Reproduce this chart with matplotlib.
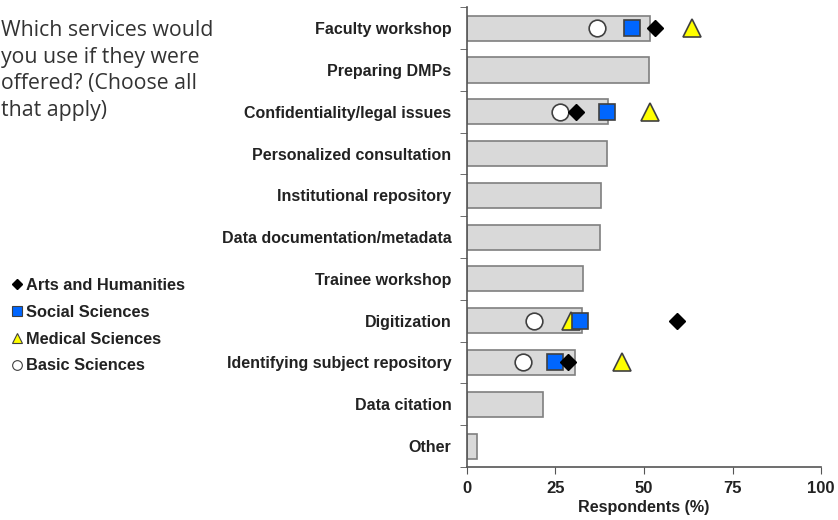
import numpy as np
import matplotlib
matplotlib.use('Agg')
from matplotlib import pyplot as plt
from matplotlib.lines import Line2D

# services and overall percentage of respondents
services = ['Faculty workshop', 'Preparing DMPs', 'Confidentiality/legal issues',
            'Personalized consultation', 'Institutional repository',
            'Data documentation/metadata', 'Trainee workshop', 'Digitization',
            'Identifying subject repository', 'Data citation', 'Other']
overall = [51.7, 51.5, 39.9, 39.5, 37.8, 37.5, 32.7, 32.6, 30.5, 21.6, 3.0]

# discipline breakdown (only shown for some services)
nan = np.nan
arts = [53.1, nan, 30.7, nan, nan, nan, nan, 59.2, 28.6, nan, nan]
social = [46.7, nan, 39.7, nan, nan, nan, nan, 31.9, 24.8, nan, nan]
medical = [63.4, nan, 51.8, nan, nan, nan, nan, 29.3, 43.7, nan, nan]
basic = [36.6, nan, 26.4, nan, nan, nan, nan, 18.9, 16.0, nan, nan]

xticks = [0, 25, 50, 75, 100]

plt.rcParams['font.family'] = ['Liberation Sans', 'DejaVu Sans']

fig = plt.figure(figsize=(8.38, 5.2), dpi=100)
ax = fig.add_axes([0.557, 0.102, 0.423, 0.884])

y = np.arange(len(services))
ax.barh(y, overall, height=0.6, color='#d9d9d9', edgecolor='#7f7f7f', linewidth=1.2, zorder=1)

# markers per discipline
ax.plot(basic, y, 'o', ms=12, mfc='white', mec='#404040', mew=1.2, zorder=3, linestyle='none')
ax.plot(medical, y, '^', ms=13, mfc='#ffff00', mec='#404040', mew=1.2, zorder=3, linestyle='none')
ax.plot(social, y, 's', ms=11.5, mfc='#0066ff', mec='#404040', mew=1.2, zorder=4, linestyle='none')
ax.plot(arts, y, 'D', ms=8.5, mfc='black', mec='black', mew=1, zorder=5, linestyle='none')

ax.set_ylim(len(services) - 0.5, -0.5)
ax.set_xlim(0, 100)
ax.set_xticks(xticks)
ax.set_xticklabels([str(t) for t in xticks], fontsize=12, fontweight='bold', color='#222222')
ax.set_yticks(y)
ax.set_yticklabels(services, fontsize=11.5, fontweight='bold', color='#222222')
ax.tick_params(axis='y', length=0, pad=11)
# tick marks between categories
ax.set_yticks(np.arange(len(services) + 1) - 0.5, minor=True)
ax.tick_params(axis='y', which='minor', length=5, color='#555555')
ax.tick_params(axis='x', length=5, color='#555555', pad=5)
ax.set_xlabel('Respondents (%)', fontsize=11.6, fontweight='bold', color='#222222', labelpad=3)

for s in ['top', 'right']:
    ax.spines[s].set_visible(False)
for s in ['left', 'bottom']:
    ax.spines[s].set_color('#555555')
    ax.spines[s].set_linewidth(1.2)
ax.spines['left'].set_bounds(len(services) - 0.5, -0.5)

# question text
fig.text(0.001, 0.962, 'Which services would\nyou use if they were\noffered? (Choose all\nthat apply)',
         fontsize=15.3, family=['Open Sans', 'DejaVu Sans'], color='#333333',
         va='top', ha='left', linespacing=1.36)

# legend
handles = [
    Line2D([], [], marker='D', ms=5, mfc='black', mec='black', linestyle='none'),
    Line2D([], [], marker='s', ms=7, mfc='#0066ff', mec='#404040', mew=0.8, linestyle='none'),
    Line2D([], [], marker='^', ms=7, mfc='#ffff00', mec='#404040', mew=0.8, linestyle='none'),
    Line2D([], [], marker='o', ms=7, mfc='white', mec='#404040', mew=0.8, linestyle='none'),
]
labels = ['Arts and Humanities', 'Social Sciences', 'Medical Sciences', 'Basic Sciences']
leg = fig.legend(handles, labels, loc='upper left', bbox_to_anchor=(0.006, 0.478),
                 frameon=False, handlelength=0.7, handletextpad=0.15,
                 labelspacing=0.72, borderaxespad=0,
                 prop={'weight': 'bold', 'size': 11.8})
for t in leg.get_texts():
    t.set_color('#222222')

fig.savefig('out.png', dpi=100)
